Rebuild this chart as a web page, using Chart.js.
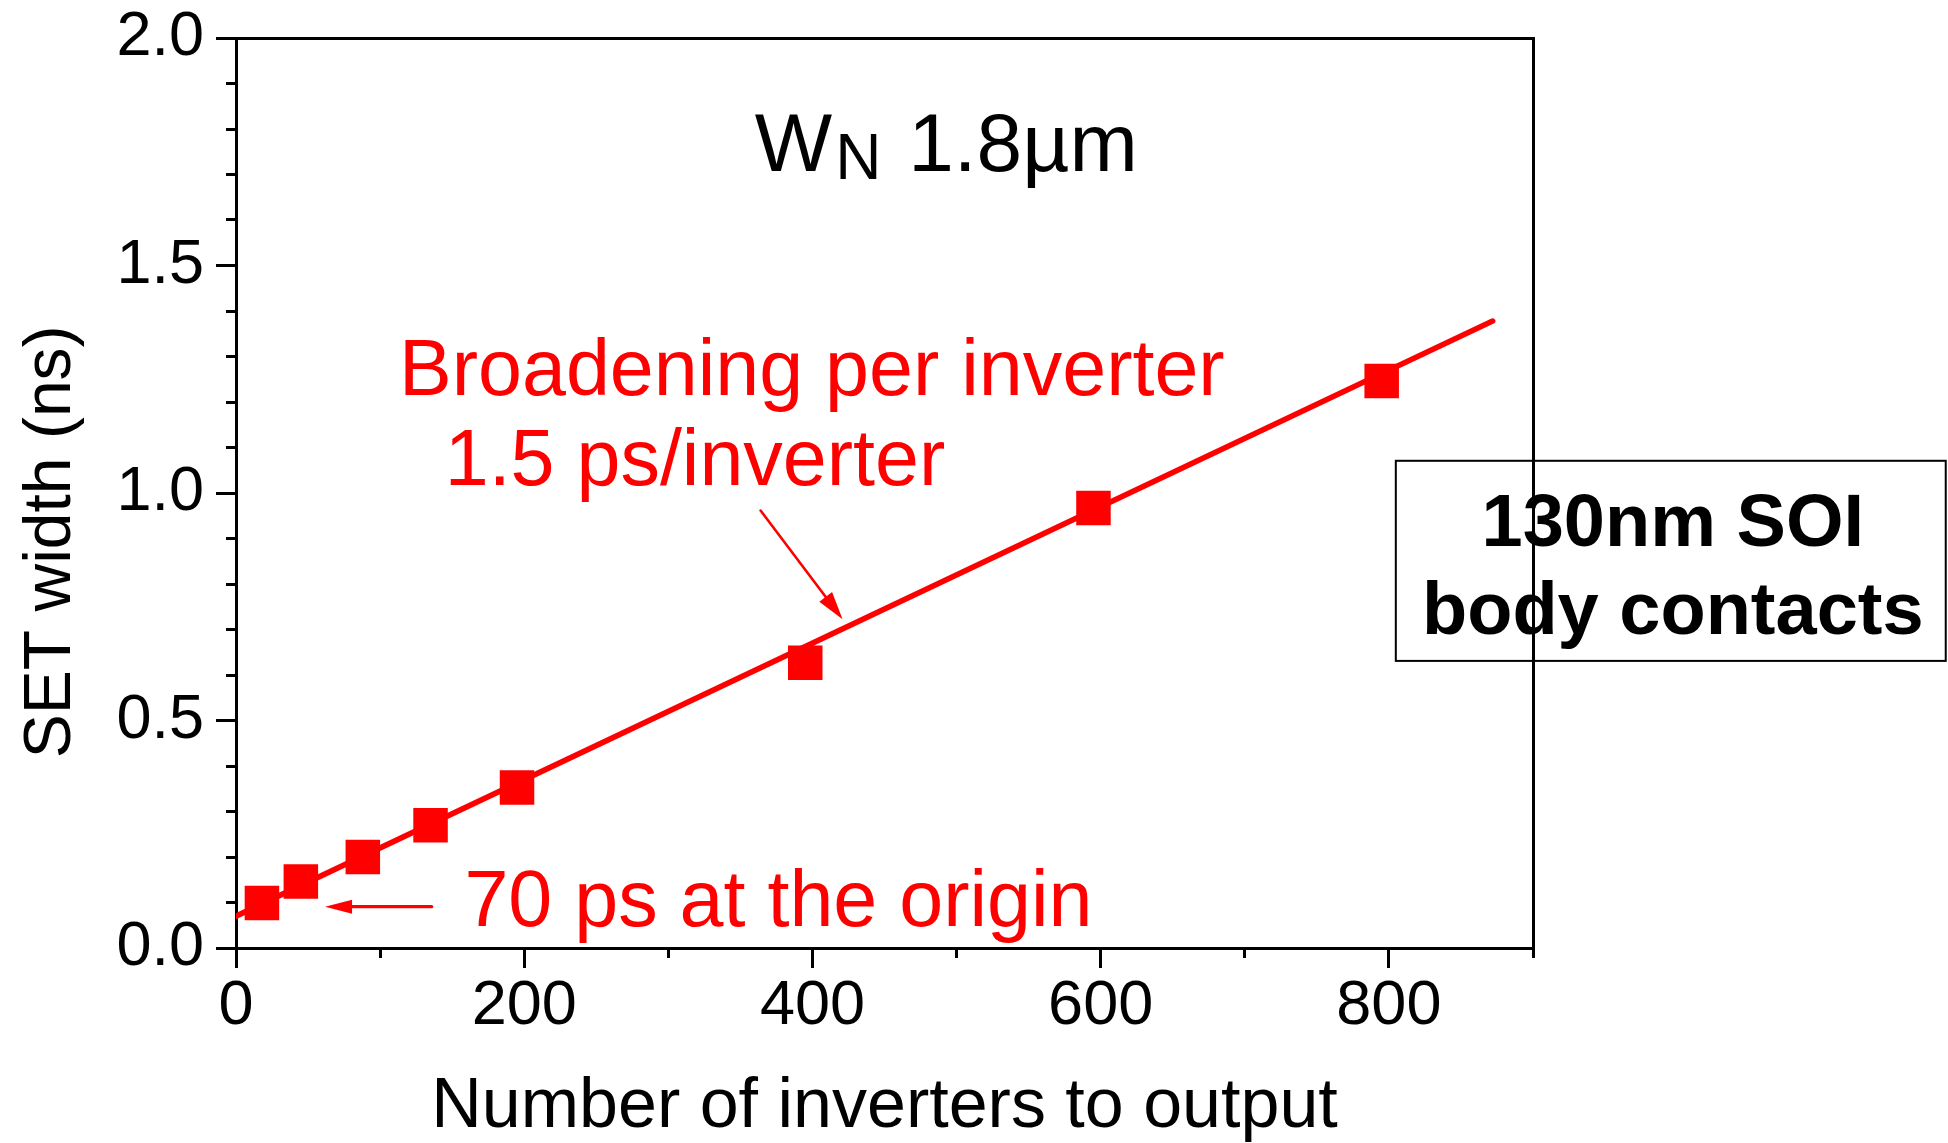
<!DOCTYPE html>
<html>
<head>
<meta charset="utf-8">
<script src="https://cdn.jsdelivr.net/npm/chart.js@4/dist/chart.umd.min.js"></script>
<style>
  html, body { margin: 0; padding: 0; background: #fff; }
  canvas { display: block; }
</style>
</head>
<body>
<canvas id="c" width="1948" height="1143"></canvas>
<script>
// Measured SET widths versus inverter count
const inverters  = [18, 45, 88, 135, 195, 395, 595, 795];
const setWidthNs = [0.099, 0.146, 0.200, 0.270, 0.353, 0.627, 0.967, 1.246];

// Linear fit: 70 ps at the origin, 1.5 ps per inverter
const fitOriginNs = 0.070;
const fitSlopeNs  = 0.0015;
const fitSpan     = [0, 872];

// Axis ticks and labels
const xMajorTicks = [0, 200, 400, 600, 800];
const xTickLabels = ['0', '200', '400', '600', '800'];
const yMajorTicks = [0, 0.5, 1.0, 1.5, 2.0];
const yTickLabels = ['0.0', '0.5', '1.0', '1.5', '2.0'];
const xTitle = 'Number of inverters to output';
const yTitle = 'SET width (ns)';

const FONT = "'Liberation Sans', Arial, Helvetica, sans-serif";
const RED = '#ff0000';

const fitPoints = fitSpan.map(n => ({ x: n, y: fitOriginNs + fitSlopeNs * n }));
const measured = inverters.map((n, i) => ({ x: n, y: setWidthNs[i] }));

// Annotation placement (data units unless noted)
const notes = {
  device:   { x: 360, y: 1.708 },
  slope1:   { x: 399.6, y: 1.216, text: 'Broadening per inverter' },
  slope2:   { x: 318.5, y: 1.018, text: '1.5 ps/inverter' },
  origin:   { x: 158.5, y: 0.0484, text: '70 ps at the origin' },
  arrowSlope:  { from: [364, 0.9615], to: [420.9, 0.7227] },
  arrowOrigin: { from: [135.8, 0.0908], to: [61.8, 0.0908] },
  box: { x0: 804.8, x1: 1186.4, y0: 1.0708, y1: 0.631, cx: 997,
         lines: [['130nm SOI', 0.8839], ['body contacts', 0.6904]] },
  yTitlePx: { x: 70, yVal: 0.8927 }
};

function arrow(ctx, x0, y0, x1, y1, len, half, width) {
  const a = Math.atan2(y1 - y0, x1 - x0);
  const bx = x1 - len * Math.cos(a), by = y1 - len * Math.sin(a);
  ctx.beginPath();
  ctx.lineWidth = width;
  ctx.lineCap = 'round';
  ctx.moveTo(x0, y0);
  ctx.lineTo(bx + 2 * Math.cos(a), by + 2 * Math.sin(a));
  ctx.stroke();
  ctx.beginPath();
  ctx.moveTo(x1, y1);
  ctx.lineTo(bx - half * Math.sin(a), by + half * Math.cos(a));
  ctx.lineTo(bx + half * Math.sin(a), by - half * Math.cos(a));
  ctx.closePath();
  ctx.fill();
}

const annotations = {
  id: 'annotations',
  afterDraw(chart) {
    const ctx = chart.ctx;
    const X = v => chart.scales.x.getPixelForValue(v);
    const Y = v => chart.scales.y.getPixelForValue(v);
    ctx.save();

    // y axis title
    ctx.save();
    ctx.translate(notes.yTitlePx.x, Y(notes.yTitlePx.yVal));
    ctx.rotate(-Math.PI / 2);
    ctx.fillStyle = '#000';
    ctx.font = `66px ${FONT}`;
    ctx.textAlign = 'center';
    ctx.textBaseline = 'alphabetic';
    ctx.fillText(yTitle, 0, 0);
    ctx.restore();

    // W_N 1.8µm
    ctx.fillStyle = '#000';
    ctx.textAlign = 'left';
    ctx.textBaseline = 'alphabetic';
    let x = X(notes.device.x), y = Y(notes.device.y);
    ctx.font = `82px ${FONT}`;
    ctx.fillText('W', x, y);
    x += ctx.measureText('W').width + 3;
    ctx.font = `64px ${FONT}`;
    ctx.fillText('N', x, y + 8);
    x += ctx.measureText('N').width + 4;
    ctx.font = `82px ${FONT}`;
    ctx.fillText(' 1.8µm', x, y);

    // red annotations
    ctx.fillStyle = RED;
    ctx.strokeStyle = RED;
    ctx.font = `79px ${FONT}`;
    ctx.textAlign = 'center';
    ctx.fillText(notes.slope1.text, X(notes.slope1.x), Y(notes.slope1.y));
    ctx.fillText(notes.slope2.text, X(notes.slope2.x), Y(notes.slope2.y));
    ctx.textAlign = 'left';
    ctx.fillText(notes.origin.text, X(notes.origin.x), Y(notes.origin.y));

    const a1 = notes.arrowSlope, a2 = notes.arrowOrigin;
    arrow(ctx, X(a1.from[0]), Y(a1.from[1]), X(a1.to[0]), Y(a1.to[1]), 28, 8, 2.6);
    arrow(ctx, X(a2.from[0]), Y(a2.from[1]), X(a2.to[0]), Y(a2.to[1]), 27, 7, 3.2);

    // process label box
    const b = notes.box;
    ctx.strokeStyle = '#000';
    ctx.lineWidth = 2;
    ctx.strokeRect(X(b.x0), Y(b.y0), X(b.x1) - X(b.x0), Y(b.y1) - Y(b.y0));
    ctx.fillStyle = '#000';
    ctx.font = `bold 74px ${FONT}`;
    ctx.textAlign = 'center';
    b.lines.forEach(([t, yy]) => ctx.fillText(t, X(b.cx), Y(yy)));

    ctx.restore();
  }
};

const axisLine = { color: '#000', width: 3 };
const tickGrid = (len) => ({
  drawOnChartArea: false, drawTicks: true, tickLength: len,
  color: '#000', tickColor: '#000', lineWidth: 3, tickWidth: 3
});

new Chart(document.getElementById('c'), {
  type: 'scatter',
  data: {
    datasets: [
      {
        label: 'SET width',
        data: measured,
        showLine: false,
        pointStyle: 'rect',
        pointRadius: 24.4,
        pointBorderWidth: 0,
        backgroundColor: RED,
        borderColor: RED,
        order: 0
      },
      {
        label: 'fit',
        data: fitPoints,
        showLine: true,
        pointRadius: 0,
        borderColor: RED,
        borderWidth: 5.5,
        borderCapStyle: 'round',
        fill: false,
        order: 1
      }
    ]
  },
  options: {
    responsive: false,
    animation: false,
    devicePixelRatio: 1,
    layout: { padding: { left: 0, right: 415, top: 38, bottom: 0 } },
    plugins: { legend: { display: false }, tooltip: { enabled: false } },
    scales: {
      x: {
        type: 'linear', position: 'bottom', min: 0, max: 900, weight: 1,
        border: axisLine,
        grid: tickGrid(20),
        afterBuildTicks: s => { s.ticks = xMajorTicks.map(v => ({ value: v })); },
        ticks: { color: '#000', font: { family: FONT, size: 63, lineHeight: 1.2 },
                 padding: 1, maxRotation: 0,
                 autoSkip: false, callback: (v, i) => xTickLabels[i] },
        title: { display: true, text: xTitle, color: '#000',
                 font: { family: FONT, size: 70, lineHeight: 1.0 }, padding: 0 },
        afterFit: s => { s.height = 195; }
      },
      xMinor: {
        type: 'linear', position: 'bottom', min: 0, max: 900, weight: 0,
        border: axisLine,
        grid: tickGrid(10),
        ticks: { display: false, stepSize: 100, maxTicksLimit: 50 },
        afterFit: s => { s.height = 0; }
      },
      xTop: {
        type: 'linear', position: 'top', min: 0, max: 900,
        border: axisLine,
        grid: { drawOnChartArea: false, drawTicks: false },
        ticks: { display: false },
        afterFit: s => { s.height = 0; }
      },
      y: {
        type: 'linear', position: 'left', min: 0, max: 2, weight: 1,
        border: axisLine,
        grid: tickGrid(20),
        afterBuildTicks: s => { s.ticks = yMajorTicks.map(v => ({ value: v })); },
        ticks: { color: '#000', font: { family: FONT, size: 63, lineHeight: 0.6 },
                 padding: 12, autoSkip: false, callback: (v, i) => yTickLabels[i] },
        afterFit: s => { s.width = 236; }
      },
      yMinor: {
        type: 'linear', position: 'left', min: 0, max: 2, weight: 0,
        border: axisLine,
        grid: tickGrid(10),
        ticks: { display: false, stepSize: 0.1, maxTicksLimit: 50 },
        afterFit: s => { s.width = 0; }
      },
      yRight: {
        type: 'linear', position: 'right', min: 0, max: 2,
        border: axisLine,
        grid: { drawOnChartArea: false, drawTicks: false },
        ticks: { display: false },
        afterFit: s => { s.width = 0; }
      }
    }
  },
  plugins: [annotations]
});
</script>
</body>
</html>
